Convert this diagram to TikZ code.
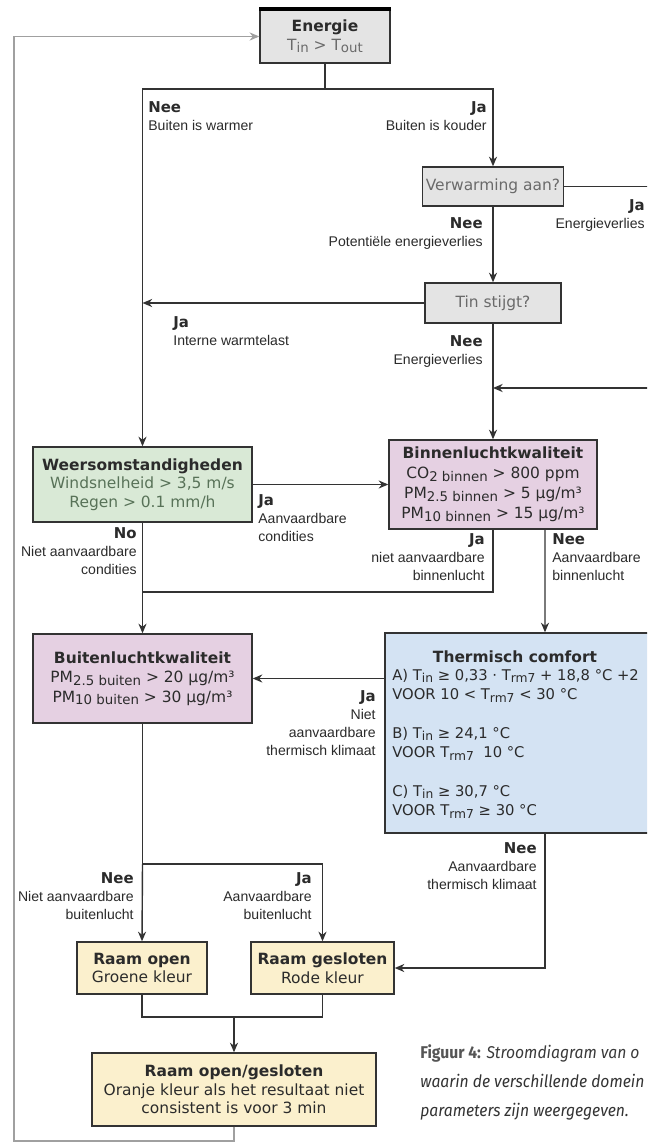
\documentclass[tikz,border=0pt]{standalone}
\usepackage{fontspec}
\setmainfont{DejaVu Sans}
\newfontfamily\lblfont{Liberation Sans}
\newfontfamily\capfont[FakeStretch=0.92]{Fira Sans}
\usetikzlibrary{arrows.meta,positioning}

\definecolor{lijn}{HTML}{333333}
\definecolor{tekst}{HTML}{2B2B2B}
\definecolor{grijstekst}{HTML}{6A6A6A}
\definecolor{groentekst}{HTML}{587258}
\definecolor{grijsvak}{HTML}{E4E4E4}
\definecolor{groenvak}{HTML}{D9E9D6}
\definecolor{paarsvak}{HTML}{E5D0E2}
\definecolor{blauwvak}{HTML}{D4E3F3}
\definecolor{geelvak}{HTML}{FBF0CD}
\definecolor{lusgrijs}{HTML}{A0A0A0}

\newcommand{\onder}[1]{\raisebox{-0.3ex}{\fontsize{7.6}{8}\selectfont #1}}
\newcommand{\onderk}[1]{\raisebox{-0.3ex}{\fontsize{7}{8}\selectfont #1}}
\newcommand{\kop}[1]{{\setmainfont{DejaVu Sans}\fontsize{8.5}{10}\selectfont\bfseries #1}}

\tikzset{
  vak/.style={draw=lijn,line width=0.8pt,align=center,inner sep=2pt,text=tekst,
    font=\fontsize{8.8}{10.6}\selectfont},
  keuze/.style={inner sep=0pt,text=tekst,font=\lblfont\fontsize{8}{10.3}\selectfont},
  pijl/.style={draw=lijn,line width=0.8pt,-{Stealth[length=5.5pt,width=4.6pt]}},
  lijntje/.style={draw=lijn,line width=0.8pt},
  lus/.style={draw=lusgrijs,line width=1pt,-{Stealth[length=5.5pt,width=4.6pt]}},
  bijschrift/.style={inner sep=0pt,anchor=base west,font=\capfont\fontsize{9.7}{12}\selectfont}
}

\begin{document}
\begin{tikzpicture}[x=0.02cm,y=-0.02cm]
  \useasboundingbox (0,0) rectangle (647,1142);
  \clip (0,0) rectangle (647,1142);
  \fill[white] (0,0) rectangle (647,1142);

  \coordinate (split1) at (325,89);
  \coordinate (rechts) at (665,388);
  \coordinate (join1) at (142.5,592);
  \coordinate (split2) at (142.5,864);
  \coordinate (join3) at (234,1017);
  \coordinate (hoek) at (14,1141);

  \node[vak,fill=grijsvak,minimum width=2.6cm,minimum height=1.06cm] (energie) at (325,36.5)
    {\bfseries Energie\\ \color{grijstekst}T\onder{in} > T\onder{out}};
  \draw[line width=2.2pt,black] (energie.north west) -- (energie.north east);
  \node[vak,fill=grijsvak,text=grijstekst,minimum width=2.72cm,minimum height=0.78cm] (verw) at (493,186.5) {Verwarming aan?};
  \node[vak,fill=grijsvak,text=grijstekst,minimum width=2.72cm,minimum height=0.8cm] (tin) at (493,303) {Tin stijgt?};
  \node[vak,fill=groenvak,minimum width=4.38cm,minimum height=1.5cm] (weer) at (142.5,484.5)
    {\bfseries Weersomstandigheden\\ \color{groentekst}Windsnelheid > 3,5 m/s\\ \color{groentekst}Regen > 0.1 mm/h};
  \node[vak,fill=paarsvak,minimum width=4.16cm,minimum height=1.78cm,font=\fontsize{8.8}{11.3}\selectfont] (binnen) at (493,484.5)
    {\bfseries Binnenluchtkwaliteit\\ CO\onder{2 binnen} > 800 ppm\\ PM\onder{2.5 binnen} > 5 µg/m³\\ PM\onder{10 binnen} > 15 µg/m³};
  \node[vak,fill=paarsvak,minimum width=4.38cm,minimum height=1.78cm,font=\fontsize{8.8}{11}\selectfont] (buiten) at (142.5,678.5)
    {\bfseries Buitenluchtkwaliteit\\ PM\onder{2.5 buiten} > 20 µg/m³\\ PM\onder{10 buiten} > 30 µg/m³};
  \node[vak,fill=blauwvak,minimum width=5.3cm,minimum height=4cm] (therm) at (517.5,733) {};
  \node[inner sep=0pt,text=tekst,font=\fontsize{8.8}{11}\selectfont\bfseries] (thermkop) at (515,657) {Thermisch comfort};
  \node[inner sep=0pt,text=tekst,anchor=north west,align=left,font=\fontsize{8.4}{11}\selectfont] (thermtekst) at (392,669)
    {A) T\onderk{in} ≥ 0,33 · T\onderk{rm7} + 18,8 °C +2\\
     VOOR 10 < T\onderk{rm7} < 30 °C\\[11pt]
     B) T\onderk{in} ≥ 24,1 °C\\
     VOOR T\onderk{rm7}\ \ 10 °C\\[11pt]
     C) T\onderk{in} ≥ 30,7 °C\\
     VOOR T\onderk{rm7} ≥ 30 °C};
  \node[vak,fill=geelvak,minimum width=2.6cm,minimum height=1.04cm] (open) at (142,968)
    {\bfseries Raam open\\ Groene kleur};
  \node[vak,fill=geelvak,minimum width=2.86cm,minimum height=1.04cm] (gesloten) at (322.5,968)
    {\bfseries Raam gesloten\\ Rode kleur};
  \node[vak,fill=geelvak,minimum width=5.68cm,minimum height=1.46cm] (eind) at (234,1089.5)
    {\bfseries Raam open/gesloten\\ Oranje kleur als het resultaat niet\\ consistent is voor 3 min};

  \draw[lijntje] (energie) -- (split1);
  \draw[pijl] (split1) -| (weer.north);
  \draw[pijl] (split1) -| (verw.north);
  \draw[pijl] (verw.east) -| (rechts) -- (rechts -| binnen.north);
  \draw[pijl] (verw) -- (tin);
  \draw[pijl] (tin.west) -- (tin.west -| weer.north);
  \draw[pijl] (tin) -- (binnen);
  \draw[pijl] (weer.east) -- (binnen.west);
  \draw[pijl] (weer) -- (buiten);
  \draw[lijntje] (binnen.south) |- (join1);
  \draw[pijl] ([xshift=1.04cm]binnen.south) -- ([xshift=0.55cm]therm.north);
  \draw[pijl] (therm.west |- buiten.east) -- (buiten.east);
  \draw[pijl] ([xshift=0.55cm]therm.south) |- (gesloten.east);
  \draw[lijntje] (buiten) -- (split2);
  \draw[pijl] (split2) -- (open.north);
  \draw[pijl] (split2) -| (gesloten.north);
  \draw[lijntje] (open.south) |- (join3) -| (gesloten.south);
  \draw[pijl] (join3) -- (eind.north);
  \draw[lus] (eind.south) |- (hoek) |- (energie.west);

  \node[keuze,anchor=north west,align=left] (l1) at (148,101) {\kop{Nee}\\ Buiten is warmer};
  \node[keuze,anchor=north east,align=right] (l2) at (487,101) {\kop{Ja}\\ Buiten is kouder};
  \node[keuze,anchor=north east,align=right] (l3) at (645,199) {\kop{Ja}\\ Energieverlies};
  \node[keuze,anchor=north east,align=right] (l4) at (483,217) {\kop{Nee}\\ Potentiële energieverlies};
  \node[keuze,anchor=north west,align=left] (l5) at (173,316) {\kop{Ja}\\ Interne warmtelast};
  \node[keuze,anchor=north east,align=right] (l6) at (483,335) {\kop{Nee}\\ Energieverlies};
  \node[keuze,anchor=north west,align=left] (l7) at (258,494) {\kop{Ja}\\ Aanvaardbare\\ condities};
  \node[keuze,anchor=north east,align=right] (l8) at (137,527) {\kop{No}\\ Niet aanvaardbare\\ condities};
  \node[keuze,anchor=north east,align=right] (l9) at (485,533) {\kop{Ja}\\ niet aanvaardbare\\ binnenlucht};
  \node[keuze,anchor=north west,align=left] (l10) at (552,533) {\kop{Nee}\\ Aanvaardbare\\ binnenlucht};
  \node[keuze,anchor=north east,align=right] (l11) at (376,690) {\kop{Ja}\\ Niet\\ aanvaardbare\\ thermisch klimaat};
  \node[keuze,anchor=north east,align=right] (l12) at (537,842) {\kop{Nee}\\ Aanvaardbare\\ thermisch klimaat};
  \node[keuze,anchor=north east,align=right] (l13) at (134,872) {\kop{Nee}\\ Niet aanvaardbare\\ buitenlucht};
  \node[keuze,anchor=north east,align=right] (l14) at (312,872) {\kop{Ja}\\ Aanvaardbare\\ buitenlucht};

  \node[bijschrift] (cap1) at (420,1058) {\textcolor[HTML]{555555}{\bfseries Figuur 4:} \textcolor[HTML]{3A3A3A}{\itshape Stroomdiagram van o}};
  \node[bijschrift,text=lijn] (cap2) at (420,1087) {\itshape waarin de verschillende domein};
  \node[bijschrift,text=lijn] (cap3) at (420,1116) {\itshape parameters zijn weergegeven.};
\end{tikzpicture}
\end{document}
